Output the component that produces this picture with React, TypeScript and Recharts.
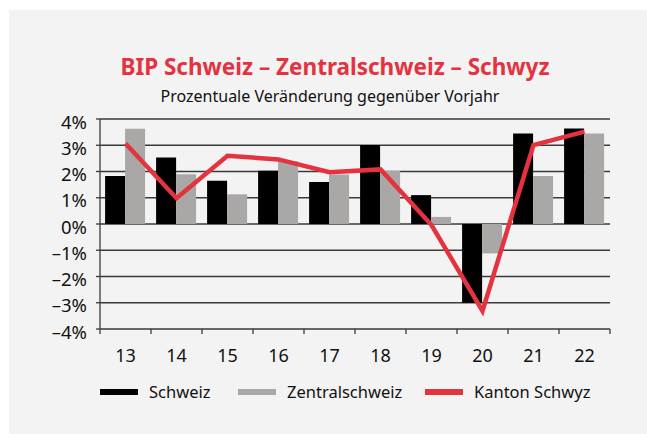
import { ComposedChart, Bar, Line, XAxis, YAxis, CartesianGrid } from 'recharts';

const years = ['13', '14', '15', '16', '17', '18', '19', '20', '21', '22'];
const schweiz = [1.83, 2.53, 1.65, 2.03, 1.6, 3.01, 1.1, -3.0, 3.45, 3.64];
const zentralschweiz = [3.63, 1.9, 1.13, 2.39, 1.89, 2.02, 0.27, -1.12, 1.83, 3.45];
const kantonSchwyz = [3.07, 0.98, 2.6, 2.46, 1.97, 2.08, -0.04, -3.31, 3.01, 3.52];
const yTicks = [-4, -3, -2, -1, 0, 1, 2, 3, 4];

const data = years.map((year, i) => ({
    year,
    schweiz: schweiz[i],
    zentral: zentralschweiz[i],
    schwyz: kantonSchwyz[i]
}));

const FONT = '"Noto Sans", sans-serif';
const RED = '#e5323f';
const GRID = '#3a3a3a';
const HALF_BAND = 25.5;

const fmt = (v: number) => (v < 0 ? '\u2013' + Math.abs(v) : String(v)) + '%';

function YearTick(props: any) {
    const { x, y, payload, index } = props;
    return (
        <g>
            <line x1={x - HALF_BAND} x2={x - HALF_BAND} y1={y} y2={y + 5} stroke={GRID} strokeWidth={1.3} />
            {index === years.length - 1 && (
                <line x1={x + HALF_BAND} x2={x + HALF_BAND} y1={y} y2={y + 5} stroke={GRID} strokeWidth={1.3} />
            )}
            <text x={x} y={y + 33} textAnchor="middle" fill="#111" fontSize={18} fontFamily={FONT}>
                {payload.value}
            </text>
        </g>
    );
}

const legendItems = [
    { label: 'Schweiz', color: '#000', left: 100 },
    { label: 'Zentralschweiz', color: '#a9a8a6', left: 238 },
    { label: 'Kanton Schwyz', color: RED, left: 425 }
];

export default function App() {
    return (
        <div style={{ position: 'absolute', left: 0, top: 0, width: 647, height: 434, background: '#fff', fontFamily: FONT }}>
            <div style={{ position: 'absolute', left: 9, top: 10, width: 638, height: 424, background: '#f3f3f3' }} />
            <div style={{ position: 'absolute', left: 0, top: 51, width: 670, textAlign: 'center', color: RED, fontWeight: 700, fontSize: 22.5 }}>
                BIP Schweiz – Zentralschweiz – Schwyz
            </div>
            <div style={{ position: 'absolute', left: 0, top: 85, width: 660, textAlign: 'center', color: '#111', fontSize: 16 }}>
                Prozentuale Veränderung gegenüber Vorjahr
            </div>
            <div style={{ position: 'absolute', left: 0, top: 0 }}>
                <ComposedChart
                    width={647}
                    height={434}
                    data={data}
                    margin={{ top: 119, right: 37, bottom: 75, left: 20 }}
                    barCategoryGap="10%"
                    barGap={0}
                >
                    <CartesianGrid vertical={false} stroke={GRID} strokeWidth={1.3} />
                    <XAxis
                        dataKey="year"
                        height={30}
                        axisLine={false}
                        tickLine={false}
                        tickSize={0}
                        tickMargin={0}
                        interval={0}
                        tick={<YearTick />}
                    />
                    <YAxis
                        width={80}
                        domain={[-4, 4]}
                        ticks={yTicks}
                        interval={0}
                        tickFormatter={fmt}
                        axisLine={{ stroke: GRID, strokeWidth: 1.3 }}
                        tickLine={{ stroke: GRID, strokeWidth: 1.3 }}
                        tickSize={4}
                        tickMargin={9}
                        tick={{ fill: '#111', fontSize: 18.5, fontFamily: FONT, dy: 3 }}
                    />
                    <Bar dataKey="schweiz" fill="#000" isAnimationActive={false} />
                    <Bar dataKey="zentral" fill="#a9a8a6" isAnimationActive={false} />
                    <Line
                        dataKey="schwyz"
                        type="linear"
                        stroke={RED}
                        strokeWidth={4.5}
                        dot={false}
                        isAnimationActive={false}
                    />
                </ComposedChart>
            </div>
            {legendItems.map((item) => (
                <div key={item.label} style={{ position: 'absolute', left: item.left, top: 380, display: 'flex', alignItems: 'center', fontSize: 16.5, color: '#111' }}>
                    <span style={{ display: 'inline-block', width: 38, height: 6, background: item.color, marginRight: 11 }} />
                    <span>{item.label}</span>
                </div>
            ))}
        </div>
    );
}
